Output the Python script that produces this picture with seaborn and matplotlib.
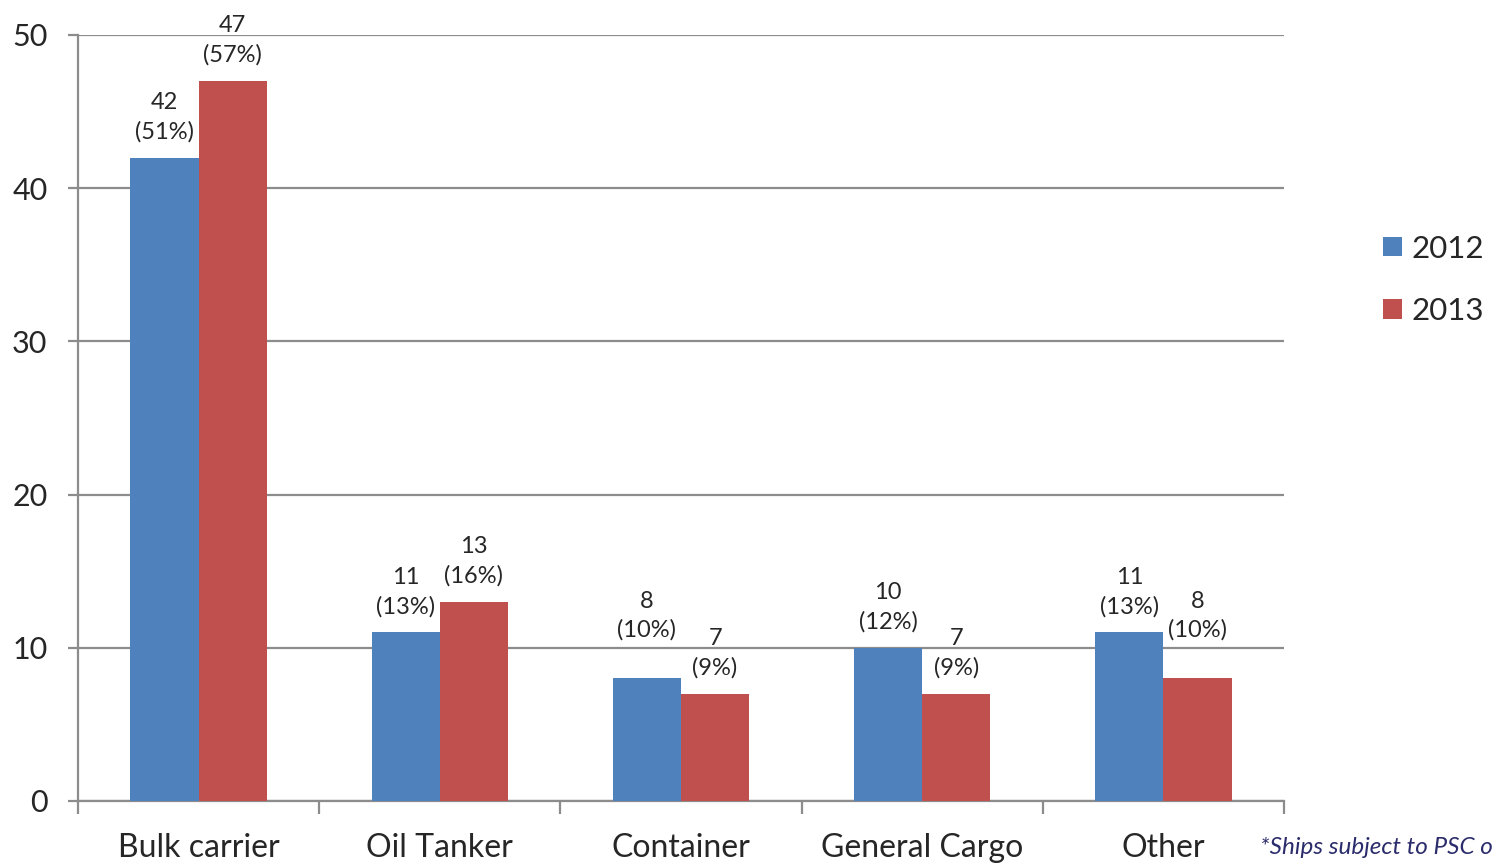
import pandas as pd
import matplotlib.pyplot as plt
import seaborn as sns
import numpy as np

# data
categories = ["Bulk carrier", "Oil Tanker", "Container", "General Cargo", "Other"]
years = ["2012", "2013"]
counts_2012 = [42, 11, 8, 10, 11]
counts_2013 = [47, 13, 7, 7, 8]
pct_2012 = [51, 13, 10, 12, 13]
pct_2013 = [57, 16, 9, 9, 10]
footnote = "*Ships subject to PSC o"

colors = ["#4F81BD", "#C0504D"]
grid_color = "#8C8C8C"

# the two "8" labels sit higher in the original
extra_pad = {("Container", "2012"): 16, ("Other", "2013"): 16}

sns.set_style("white")
plt.rcParams["font.family"] = ["Lato", "DejaVu Sans"]

df = pd.DataFrame({
    "Category": categories * 2,
    "Year": [years[0]] * len(categories) + [years[1]] * len(categories),
    "Count": counts_2012 + counts_2013,
    "Pct": pct_2012 + pct_2013,
})

fig = plt.figure(figsize=(14.92, 8.66), dpi=100)
ax = fig.add_axes([78 / 1492, 65 / 866, 1206 / 1492, 766 / 866])

sns.barplot(data=df, x="Category", y="Count", hue="Year", order=categories,
            hue_order=years, palette=colors, width=0.565, saturation=1,
            gap=0, linewidth=0, ax=ax, zorder=3)

ax.set_ylim(0, 50)
ax.set_xlim(-0.5, len(categories) - 0.5)
ax.set_yticks(np.arange(0, 51, 10))
ax.yaxis.grid(True, color=grid_color, linewidth=1.6, zorder=0)
ax.set_axisbelow(True)

for spine in ["top", "right"]:
    ax.spines[spine].set_visible(False)
for spine in ["left", "bottom"]:
    ax.spines[spine].set_color(grid_color)
    ax.spines[spine].set_linewidth(1.6)

# x ticks: labels centered, tick marks at category boundaries
ax.set_xticks(range(len(categories)))
ax.set_xticklabels(categories)
ax.set_xticks(np.arange(-0.5, len(categories)), minor=True)
ax.tick_params(axis="x", which="major", length=0, pad=23, labelsize=23)
ax.tick_params(axis="x", which="minor", length=9, width=1.6, color=grid_color,
               bottom=True)
ax.tick_params(axis="y", length=7, width=1.6, color=grid_color, pad=15,
               labelsize=22, left=True)
ax.set_xlabel("")
ax.set_ylabel("")

# value labels above each bar
for container, year in zip(ax.containers, years):
    sub = df[df["Year"] == year].set_index("Category").loc[categories]
    for bar, cat in zip(container, categories):
        txt = f"{sub.loc[cat, 'Count']}\n({sub.loc[cat, 'Pct']}%)"
        pad = 11 + extra_pad.get((cat, year), 0)
        ax.annotate(txt, (bar.get_x() + bar.get_width() / 2, bar.get_height()),
                    xytext=(0, pad), textcoords="offset points",
                    ha="center", va="bottom", fontsize=17, linespacing=1.45)

leg = ax.legend(loc="center left", bbox_to_anchor=(1383 / 1492, 0.677),
                bbox_transform=fig.transFigure, frameon=False, fontsize=22.5,
                handlelength=0.6, handleheight=0.6, handletextpad=0.3,
                labelspacing=1.1, borderaxespad=0, borderpad=0)

fig.text(1260 / 1492, (866 - 848) / 866, footnote, fontsize=17.5,
         style="italic", color="#2B2C6B", va="center", ha="left")

fig.savefig("out.png", dpi=100)
